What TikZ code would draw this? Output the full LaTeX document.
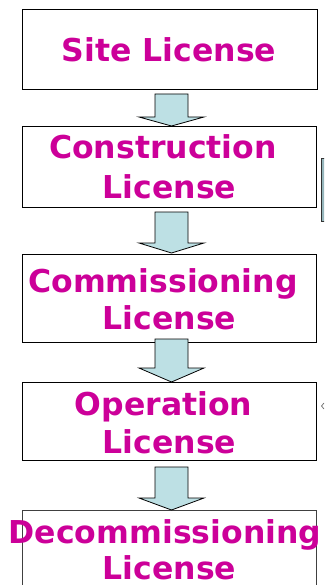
\documentclass[tikz,border=0pt]{standalone}
\usepackage{fontspec}
\setmainfont{DejaVu Sans}
\definecolor{lic}{RGB}{204,0,153}
\definecolor{arrowfill}{RGB}{189,224,228}
\definecolor{sidefill}{RGB}{150,182,188}
\begin{document}
\begin{tikzpicture}[x=1pt,y=-1pt,
  box/.style={draw=black,line width=0.9pt,fill=white,inner sep=0pt,anchor=north west,minimum width=294pt},
  lbl/.style={text=lic,font=\fontsize{31.5}{37}\selectfont\bfseries,inner sep=0pt,anchor=base},
  blockarrow/.style={draw=black,line width=0.8pt,fill=arrowfill,line join=miter}]
\clip (0,0) rectangle (324,585);
\fill[white] (0,0) rectangle (324,585);
% boxes
\node[box,minimum width=295pt,minimum height=80pt] (b1) at (22,9) {};
\node[box,minimum height=81pt] (b2) at (22,126) {};
\node[box,minimum height=88pt] (b3) at (22,254) {};
\node[box,minimum height=78pt] (b4) at (22,382) {};
\node[box,minimum height=100pt,draw=black!75,line width=1.2pt] (b5) at (22,510) {};
% texts
\node[lbl] (t1) at (169,62) {Site License};
\node[lbl] (t2a) at (163,159) {Construction};
\node[lbl] (t2b) at (169.5,198) {License};
\node[lbl] (t3a) at (163,292) {Commissioning};
\node[lbl] (t3b) at (169.5,329) {License};
\node[lbl] (t4a) at (163.5,415) {Operation};
\node[lbl] (t4b) at (169.5,453) {License};
\node[lbl] (t5a) at (165,543) {Decommissioning};
\node[lbl] (t5b) at (169.5,579) {License};
% block arrows
\coordinate (a1) at (155,94);
\coordinate (a2) at (155,212);
\coordinate (a3) at (155,339);
\coordinate (a4) at (155,467);
\draw[blockarrow] (a1) -- ++(33,0) -- ++(0,23) -- ++(16,0) -- ++(-32.5,9) -- ++(-32.5,-9) -- ++(16,0) -- cycle;
\draw[blockarrow] (a2) -- ++(33,0) -- ++(0,31) -- ++(16,0) -- ++(-32.5,10) -- ++(-32.5,-10) -- ++(16,0) -- cycle;
\draw[blockarrow] (a3) -- ++(33,0) -- ++(0,29) -- ++(16,0) -- ++(-32.5,14) -- ++(-32.5,-14) -- ++(16,0) -- cycle;
\draw[blockarrow] (a4) -- ++(33,0) -- ++(0,31) -- ++(16,0) -- ++(-32.5,12) -- ++(-32.5,-12) -- ++(16,0) -- cycle;
% partial shapes at the right edge
\draw[fill=sidefill,draw=black!80,line width=0.8pt] (321,158) rectangle (330,221);
\draw[draw=black!60,line width=0.7pt] (324,403) -- (321.5,406) -- (324,409);
\end{tikzpicture}
\end{document}
